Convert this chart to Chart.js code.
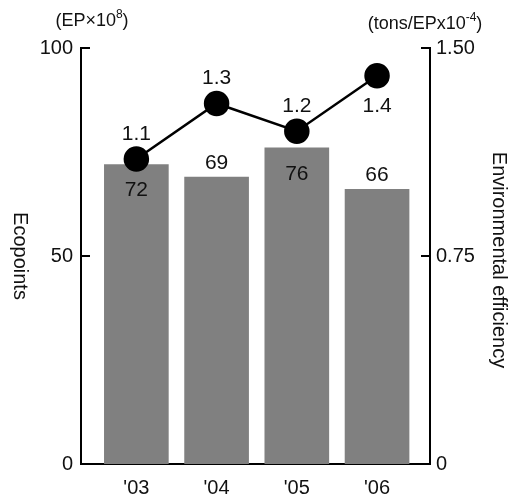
<!DOCTYPE html>
<html>
<head>
<meta charset="utf-8">
<script src="https://cdn.jsdelivr.net/npm/chart.js@4.4.0/dist/chart.umd.min.js"></script>
<style>
  html, body { margin: 0; padding: 0; background: #fff; }
  #wrap { width: 521px; height: 500px; }
</style>
</head>
<body>
<div id="wrap"><canvas id="chart"></canvas></div>
<script>
const years = ["'03", "'04", "'05", "'06"];
const ecopoints = [72, 69, 76, 66];
const efficiency = [1.1, 1.3, 1.2, 1.4];
const leftTicks = [0, 50, 100];
const rightTicks = [0, 0.75, 1.5];
// unit captions: [base text, superscript, closing]
const leftUnit = ['(EP\u00D710', '8', ')'];
const rightUnit = ['(tons/EPx10', '-4', ')'];
const leftTitle = 'Ecopoints';
const rightTitle = 'Environmental efficiency';

// where each value label sits relative to its mark
const barLabelPos = ['inside', 'above', 'inside', 'above'];
const lineLabelPos = ['above', 'above', 'above', 'below'];

const FONT = '"Liberation Sans", Arial, sans-serif';

function drawUnit(ctx, parts, cx, cy) {
    const big = '18px ' + FONT, small = '12px ' + FONT;
    ctx.font = big;
    const w0 = ctx.measureText(parts[0]).width;
    const w2 = ctx.measureText(parts[2]).width;
    ctx.font = small;
    const w1 = ctx.measureText(parts[1]).width;
    let x = cx - (w0 + w1 + w2) / 2;
    ctx.textAlign = 'left';
    ctx.textBaseline = 'middle';
    ctx.font = big;
    ctx.fillText(parts[0], x, cy);
    x += w0;
    ctx.font = small;
    ctx.fillText(parts[1], x, cy - 6);
    x += w1;
    ctx.font = big;
    ctx.fillText(parts[2], x, cy);
}

const extras = {
    id: 'extras',
    afterDatasetsDraw(chart) {
        const ctx = chart.ctx;
        ctx.save();
        ctx.fillStyle = '#111';
        ctx.font = '21px ' + FONT;
        ctx.textAlign = 'center';
        ctx.textBaseline = 'middle';

        chart.getDatasetMeta(0).data.forEach((bar, i) => {
            const y = barLabelPos[i] === 'inside' ? bar.y + 26 : bar.y - 14;
            ctx.fillText(String(ecopoints[i]), bar.x, y);
        });
        chart.getDatasetMeta(1).data.forEach((pt, i) => {
            const y = lineLabelPos[i] === 'above' ? pt.y - 25 : pt.y + 30;
            ctx.fillText(efficiency[i].toFixed(1), pt.x, y);
        });
        ctx.restore();
    },
    afterDraw(chart) {
        const ctx = chart.ctx;
        const a = chart.chartArea;
        const yL = chart.scales.y;
        const yR = chart.scales.y1;
        ctx.save();
        // inward tick marks
        ctx.strokeStyle = '#000';
        ctx.lineWidth = 2;
        ctx.beginPath();
        leftTicks.slice(1).forEach(v => {
            const p = yL.getPixelForValue(v);
            ctx.moveTo(a.left, p);
            ctx.lineTo(a.left + 9, p);
        });
        rightTicks.slice(1).forEach(v => {
            const p = yR.getPixelForValue(v);
            ctx.moveTo(a.right, p);
            ctx.lineTo(a.right - 9, p);
        });
        ctx.stroke();

        // units
        ctx.fillStyle = '#111';
        drawUnit(ctx, leftUnit, 92, 21);
        drawUnit(ctx, rightUnit, 425, 24);

        // axis titles, both read top to bottom
        ctx.font = '20px ' + FONT;
        ctx.textAlign = 'center';
        ctx.textBaseline = 'middle';
        [[20, (a.top + a.bottom) / 2, leftTitle], [499, 260, rightTitle]].forEach(([x, y, t]) => {
            ctx.save();
            ctx.translate(x, y);
            ctx.rotate(Math.PI / 2);
            ctx.fillText(t, 0, 0);
            ctx.restore();
        });
        ctx.restore();
    }
};

new Chart(document.getElementById('chart'), {
    data: {
        datasets: [
            {
                type: 'bar',
                data: ecopoints.map((v, i) => ({ x: i, y: v })),
                backgroundColor: '#808080',
                barThickness: 64,
                yAxisID: 'y',
                order: 2
            },
            {
                type: 'line',
                data: efficiency.map((v, i) => ({ x: i, y: v })),
                borderColor: '#000',
                borderWidth: 2.5,
                pointRadius: 11.5,
                pointBackgroundColor: '#000',
                pointBorderColor: '#000',
                yAxisID: 'y1',
                order: 1
            }
        ]
    },
    options: {
        responsive: true,
        maintainAspectRatio: false,
        animation: false,
        layout: { padding: { top: 48, left: 0, right: 0, bottom: 0 } },
        plugins: { legend: { display: false }, tooltip: { enabled: false } },
        scales: {
            x: {
                type: 'linear',
                position: 'bottom',
                offset: false,
                min: -0.69,
                max: 3.66,
                afterBuildTicks: s => { s.ticks = years.map((_, i) => ({ value: i })); },
                afterFit: s => { s.height = 36; },
                grid: { display: false, drawTicks: false, offset: false },
                border: { display: true, color: '#000', width: 2 },
                ticks: {
                    callback: v => years[v],
                    font: { family: FONT, size: 20 },
                    color: '#111',
                    padding: 12,
                    maxRotation: 0
                }
            },
            y: {
                position: 'left',
                min: 0,
                max: 100,
                afterBuildTicks: s => { s.ticks = leftTicks.map(v => ({ value: v })); },
                afterFit: s => { s.width = 81; },
                grid: { display: false, drawTicks: false },
                border: { display: true, color: '#000', width: 2 },
                ticks: {
                    font: { family: FONT, size: 20 },
                    color: '#111',
                    padding: 8
                }
            },
            y1: {
                position: 'right',
                min: 0,
                max: 1.5,
                afterBuildTicks: s => { s.ticks = rightTicks.map(v => ({ value: v })); },
                afterFit: s => { s.width = 91; },
                grid: { display: false, drawTicks: false },
                border: { display: true, color: '#000', width: 2 },
                ticks: {
                    callback: v => v === 0 ? '0' : v.toFixed(2),
                    font: { family: FONT, size: 20 },
                    color: '#111',
                    padding: 6
                }
            }
        }
    },
    plugins: [extras]
});
</script>
</body>
</html>
